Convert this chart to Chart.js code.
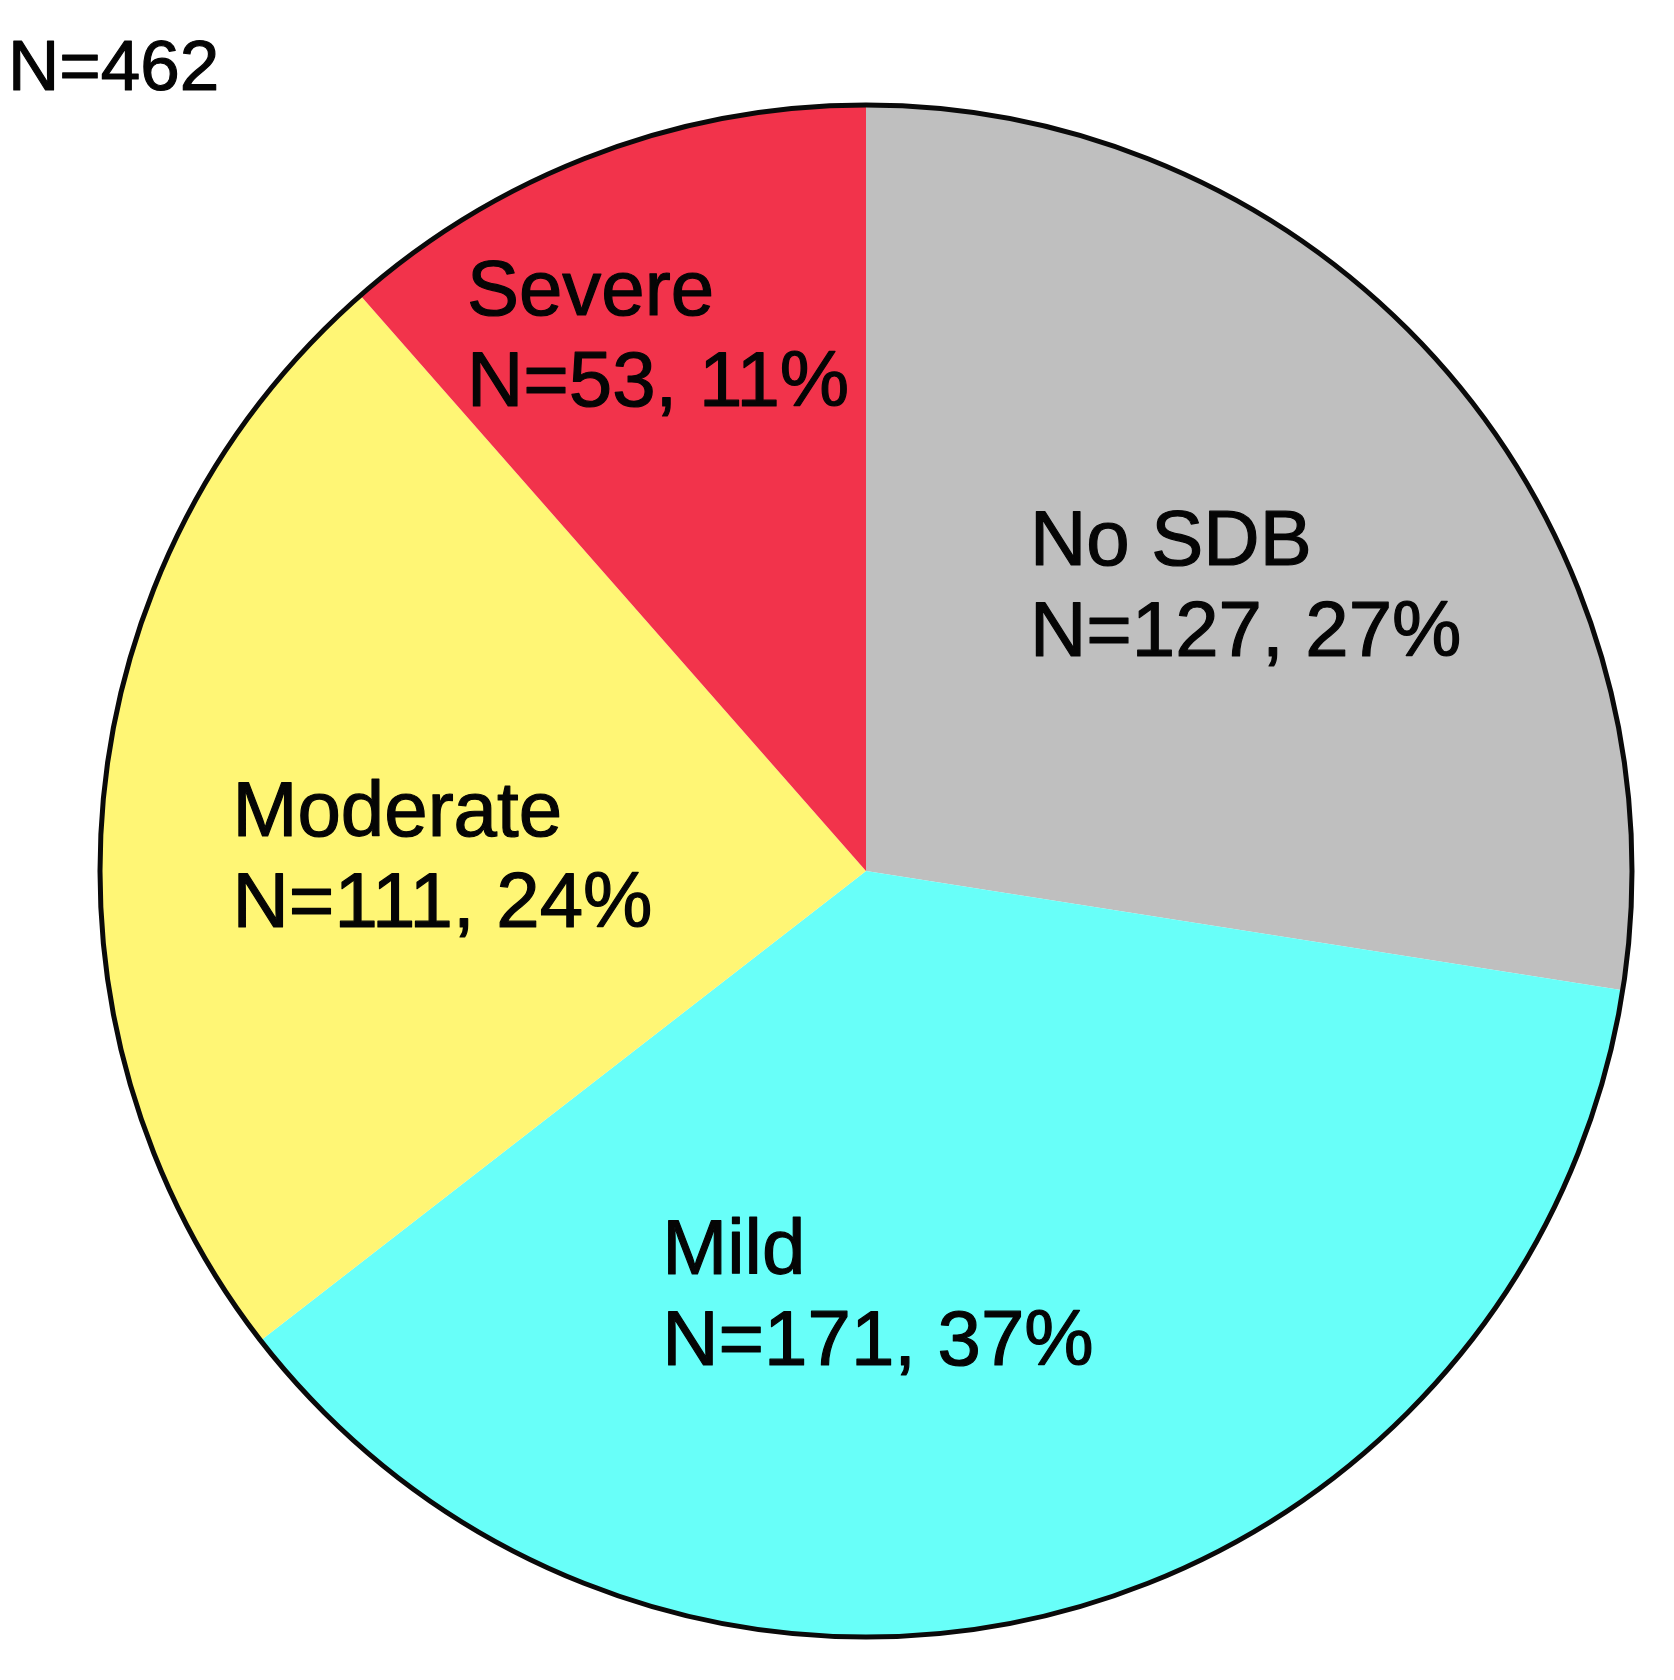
<!DOCTYPE html>
<html>
<head>
<meta charset="utf-8">
<script src="https://cdn.jsdelivr.net/npm/chart.js@4"></script>
<style>
  html, body { margin: 0; padding: 0; background: #ffffff; }
  #wrap { width: 1674px; height: 1680px; }
</style>
</head>
<body>
<div id="wrap"><canvas id="c" width="1674" height="1680"></canvas></div>
<script>
// ---- data ----
const categories = ["No SDB", "Mild", "Moderate", "Severe"];
const counts = [127, 171, 111, 53];
const sliceColors = ["#BFBFBF", "#68FFF9", "#FFF675", "#F2334B"];

// ---- layout (label anchor offsets from pie centre, in fractions of radius) ----
const labelOffsets = [
  [0.214, -0.400],
  [-0.266, 0.526],
  [-0.827, -0.046],
  [-0.521, -0.726]
];

const total = counts.reduce((a, b) => a + b, 0);
const FONT = '78px "Liberation Sans", Arial, sans-serif';
const TOTAL_FONT = '71px "Liberation Sans", Arial, sans-serif';

function heavyText(ctx, s, x, y) {
  ctx.fillText(s, x, y);
  ctx.strokeText(s, x, y);
}

const overlay = {
  id: 'overlay',
  afterDatasetsDraw(chart) {
    const ctx = chart.ctx;
    const meta = chart.getDatasetMeta(0);
    const arc0 = meta.data[0];
    const cx = arc0.x, cy = arc0.y, r = arc0.outerRadius;
    ctx.save();
    // outer circle
    ctx.beginPath();
    ctx.arc(cx, cy, r, 0, Math.PI * 2);
    ctx.lineWidth = 5;
    ctx.strokeStyle = '#0a0a0a';
    ctx.stroke();
    // slice labels
    ctx.fillStyle = '#050505';
    ctx.strokeStyle = '#050505';
    ctx.lineWidth = 1.2;
    ctx.lineJoin = 'round';
    ctx.font = FONT;
    ctx.textAlign = 'left';
    ctx.textBaseline = 'alphabetic';
    const lineH = 91;
    categories.forEach((cat, i) => {
      const x = cx + labelOffsets[i][0] * r;
      const y = cy + labelOffsets[i][1] * r;
      const pct = Math.round(counts[i] / total * 100);
      heavyText(ctx, cat, x, y);
      heavyText(ctx, 'N=' + counts[i] + ', ' + pct + '%', x, y + lineH);
    });
    // total
    ctx.font = TOTAL_FONT;
    heavyText(ctx, 'N=' + total, 8, 90);
    ctx.restore();
  }
};

new Chart(document.getElementById('c'), {
  type: 'pie',
  data: {
    labels: categories,
    datasets: [{
      data: counts,
      backgroundColor: sliceColors,
      borderWidth: 0
    }]
  },
  options: {
    responsive: false,
    animation: false,
    layout: { padding: { left: 100, right: 42, top: 105, bottom: 43 } },
    plugins: {
      legend: { display: false },
      tooltip: { enabled: false },
      title: { display: false }
    }
  },
  plugins: [overlay]
});
</script>
</body>
</html>
